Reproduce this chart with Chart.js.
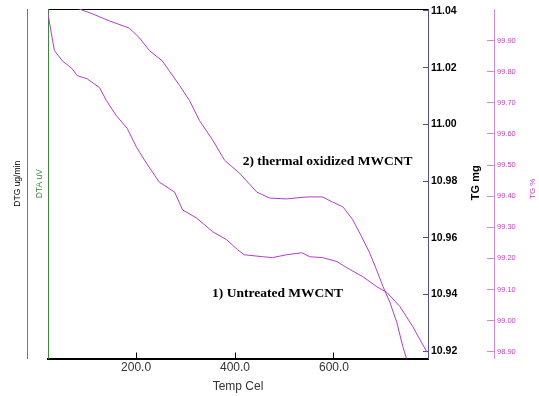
<!DOCTYPE html>
<html lang="en">
<head>
    <meta charset="UTF-8">
    <script src="https://cdn.jsdelivr.net/npm/chart.js@4.4.1/dist/chart.umd.min.js"></script>
    <title>TG MWCNT</title>
    <style>
        body { margin: 0; background: #fff; }
        canvas { display: block; }
    </style>
</head>
<body>
    <canvas id="canvas" width="539" height="396"></canvas>
<script>

// values (temp in Cel, mass in mg)
const tempUntreated = [22, 29, 35, 51, 71, 81, 101, 126, 140, 160, 182, 201, 221, 247, 278, 294, 322, 355, 383, 405,
    419, 456, 476, 504, 535, 551, 577, 606, 626, 658, 686, 707, 733, 759, 788]
const massUntreated = [11.0390, 11.0319, 11.0260, 11.0224, 11.0196, 11.0172, 11.0161, 11.0130, 11.0084, 11.0031,
    10.9986, 10.9919, 10.9863, 10.9796, 10.9761, 10.9698, 10.9670, 10.9621, 10.9593, 10.9558,
    10.9540, 10.9533, 10.9530, 10.9540, 10.9547, 10.9533, 10.9530, 10.9516, 10.9494, 10.9463,
    10.9428, 10.9407, 10.9358, 10.9287, 10.9196]

const tempOxidized = [85, 112, 146, 186, 207, 227, 253, 267, 288, 308, 328, 355, 379, 409, 444, 470, 504, 545, 577,
    597, 618, 638, 656, 672, 686, 699, 713, 727, 739, 747]
const massOxidized = [11.0407, 11.0390, 11.0365, 11.0340, 11.0305, 11.0260, 11.0224, 11.0189, 11.0137, 11.0084,
    11.0014, 10.9944, 10.9873, 10.9828, 10.9761, 10.9740, 10.9737, 10.9744, 10.9744,
    10.9726, 10.9709, 10.9663, 10.9603, 10.9547, 10.9487, 10.9428, 10.9372, 10.9301, 10.9217, 10.9171]

const tempTicks = [200, 400, 600]
const massTicks = [10.92, 10.94, 10.96, 10.98, 11.00, 11.02, 11.04]
const pctTicks = [98.9, 99.0, 99.1, 99.2, 99.3, 99.4, 99.5, 99.6, 99.7, 99.8, 99.9]

const labels = [
    { text: '2) thermal oxidized MWCNT', temp: 587, mass: 10.9868 },
    { text: '1) Untreated MWCNT', temp: 486, mass: 10.9404 }
]

const curveColor = '#b43cc8'
const pink = '#d68ad6'

function pts(xs, ys) {
    return xs.map((x, i) => ({ x: x, y: ys[i] }))
}

// curve captions and the two right-hand titles (they read bottom to top)
const textPlugin = {
    id: 'texts',
    afterDatasetsDraw(chart) {
        const ctx = chart.ctx
        const sx = chart.scales.x, sy = chart.scales.y
        ctx.save()
        ctx.fillStyle = '#000'
        ctx.font = 'bold 13.5px "Liberation Serif", "Times New Roman", serif'
        ctx.textAlign = 'center'
        ctx.textBaseline = 'middle'
        labels.forEach(l => ctx.fillText(l.text, sx.getPixelForValue(l.temp), sy.getPixelForValue(l.mass)))
        ctx.restore()
    },
    afterDraw(chart) {
        const ctx = chart.ctx
        const sy = chart.scales.y, sp = chart.scales.pct
        const mid = (chart.chartArea.top + chart.chartArea.bottom) / 2
        ctx.save()
        ctx.textAlign = 'center'
        ctx.textBaseline = 'middle'
        ctx.translate(sy.left + 48, mid - 1)
        ctx.rotate(-Math.PI / 2)
        ctx.font = 'bold 11px "Liberation Sans", Arial, sans-serif'
        ctx.fillStyle = '#000'
        ctx.fillText('TG mg', 0, 0)
        ctx.restore()
        ctx.save()
        ctx.textAlign = 'center'
        ctx.textBaseline = 'middle'
        ctx.translate(sp.left + 39, mid + 5)
        ctx.rotate(-Math.PI / 2)
        ctx.font = '8px "Liberation Sans", Arial, sans-serif'
        ctx.fillStyle = '#c040c0'
        ctx.fillText('TG %', 0, 0)
        ctx.restore()
    }
}

// no extra room above/below for the end labels, the plot box is fixed
function noPad(s) {
    s.paddingTop = 0
    s.paddingBottom = 0
}

window.onload = () => {
    Chart.defaults.font.family = '"Liberation Sans", Arial, sans-serif'

    new Chart(document.getElementById('canvas'), {
        type: 'line',
        data: {
            datasets: [{
                label: '1) Untreated MWCNT',
                data: pts(tempUntreated, massUntreated),
                borderColor: curveColor,
                borderWidth: 1,
                pointRadius: 0,
                yAxisID: 'y'
            }, {
                label: '2) thermal oxidized MWCNT',
                data: pts(tempOxidized, massOxidized),
                borderColor: curveColor,
                borderWidth: 1,
                pointRadius: 0,
                yAxisID: 'y'
            }]
        },
        options: {
            responsive: false,
            animation: false,
            layout: { padding: { top: 9, left: 0, right: 0, bottom: 0 } },
            plugins: { legend: { display: false }, tooltip: { enabled: false } },
            scales: {
                x: {
                    type: 'linear',
                    position: 'bottom',
                    min: 22,
                    max: 790,
                    afterBuildTicks: s => { s.ticks = tempTicks.map(v => ({ value: v })) },
                    afterFit: s => { s.height = 37.5 },
                    ticks: {
                        padding: 8,
                        color: '#333',
                        font: { size: 12 },
                        callback: v => v.toFixed(1)
                    },
                    grid: { drawOnChartArea: false, tickLength: -6, color: '#000' },
                    border: { color: '#000', width: 2 },
                    title: { display: true, text: 'Temp Cel', color: '#333', font: { size: 12 }, padding: { top: 0, bottom: 2 } }
                },
                xTop: {
                    type: 'linear',
                    position: 'top',
                    min: 22,
                    max: 790,
                    ticks: { display: false },
                    grid: { display: false },
                    border: { color: '#000', width: 1 },
                    afterFit: s => { s.height = 0 }
                },
                dtg: {
                    type: 'linear',
                    position: 'left',
                    weight: 2,
                    ticks: { display: false },
                    grid: { display: false },
                    border: { color: '#d05050', width: 1 },
                    title: { display: true, text: 'DTG ug/min', color: '#000', font: { size: 8.5 }, padding: { top: 13, bottom: 0 } },
                    afterFit: s => { s.width = 27 }
                },
                dta: {
                    type: 'linear',
                    position: 'left',
                    weight: 1,
                    ticks: { display: false },
                    grid: { display: false },
                    border: { color: '#3a8a3a', width: 1 },
                    title: { display: true, text: 'DTA uV', color: '#3a8a3a', font: { size: 8.5 }, padding: { top: 8, bottom: 0 } },
                    afterFit: s => { s.width = 21 }
                },
                y: {
                    type: 'linear',
                    position: 'right',
                    weight: 0,
                    min: 10.9174,
                    max: 11.0407,
                    afterBuildTicks: s => { s.ticks = massTicks.map(v => ({ value: v })) },
                    afterFit: s => { s.width = 66; noPad(s) },
                    ticks: {
                        padding: 8,
                        color: '#000',
                        font: { size: 10.5, weight: 'bold' },
                        callback: v => v.toFixed(2)
                    },
                    grid: { drawOnChartArea: false, tickLength: -5, color: '#50509a' },
                    border: { color: '#50509a', width: 1 }
                },
                pct: {
                    type: 'linear',
                    position: 'right',
                    weight: 1,
                    min: 98.878,
                    max: 100.002,
                    afterBuildTicks: s => { s.ticks = pctTicks.map(v => ({ value: v })) },
                    afterFit: s => { s.width = 45; noPad(s) },
                    ticks: {
                        padding: 10,
                        color: '#c040c0',
                        font: { size: 7.5 },
                        callback: v => v.toFixed(2)
                    },
                    grid: { drawOnChartArea: false, tickLength: -7, color: pink },
                    border: { color: pink, width: 1 }
                }
            }
        },
        plugins: [textPlugin]
    })
}

</script>
</body>
</html>
